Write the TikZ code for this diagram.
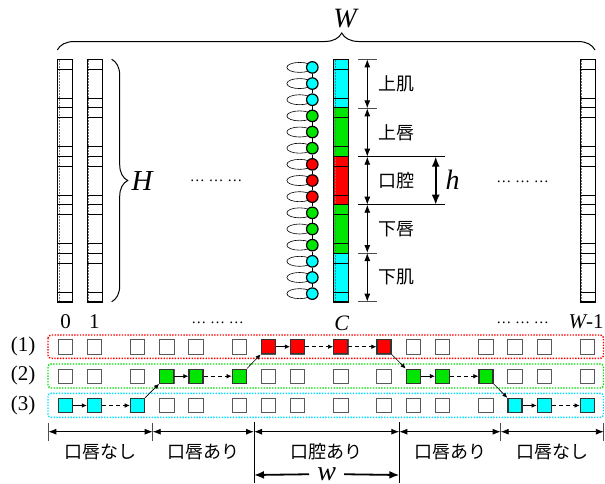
\documentclass[tikz,border=0pt]{standalone}
\usepackage{fontspec}
\setmainfont{Liberation Serif}
\newfontfamily\jpfont{Noto Sans CJK JP}
\usetikzlibrary{arrows.meta,decorations.pathreplacing,shapes.geometric}
\definecolor{cyn}{RGB}{0,255,255}
\definecolor{grn}{RGB}{0,230,0}
\definecolor{rd}{RGB}{255,0,0}
\definecolor{cyndot}{RGB}{0,225,255}
\definecolor{grndot}{RGB}{0,225,0}
\begin{document}
\begin{tikzpicture}[x=1pt,y=-1pt,
  colbox/.style={draw=black, line width=1.1pt, minimum width=15pt, minimum height=242.4pt, inner sep=0pt, anchor=north west},
  cellline/.style={draw=black, line width=0.6pt},
  guide/.style={draw=black!55, line width=0.4pt, dash pattern=on 1.5pt off 1.5pt},
  sq/.style={draw=black!65, line width=0.8pt, fill=white, minimum size=14.5pt, inner sep=0pt},
  csq/.style={draw=black!80, line width=1.4pt, minimum size=14pt, inner sep=0pt},
  harr/.style={-{Latex[length=5pt,width=4.5pt]}, line width=0.6pt},
  darr/.style={harr, dash pattern=on 4pt off 3pt},
  dim/.style={{Latex[length=8pt,width=6pt]}-{Latex[length=8pt,width=6pt]}, line width=0.9pt},
  bigdim/.style={{Latex[length=10pt,width=8pt]}-{Latex[length=10pt,width=8pt]}, line width=1.6pt},
  wdim/.style={-{Latex[length=10pt,width=8pt]}, line width=1.8pt},
  tick/.style={draw=black!70, line width=0.8pt},
  longtick/.style={draw=black, line width=1pt},
  rowbox/.style={dash pattern=on 1.4pt off 1.4pt, line width=1.4pt, rounded corners=3pt},
  jp/.style={font={\jpfont\fontsize{18}{20}\selectfont}},
  num/.style={font={\fontsize{21}{24}\selectfont}},
  big/.style={font={\fontsize{28}{30}\selectfont\itshape}},
  dotsl/.style={font={\fontsize{15}{16}\selectfont}},
  bead/.style={circle, draw=black, line width=1.2pt, minimum size=11.5pt, inner sep=0pt},
  lobe/.style={ellipse, draw=black, line width=0.6pt, fill=white, minimum width=25.5pt, minimum height=10pt, inner sep=0pt}
]
\useasboundingbox (0,0) rectangle (605,483);

% colour bands of the centre column
\foreach \g/\c in {0/cyn,1/grn,2/rd,3/grn,4/cyn}
  \fill[\c] (333.3,{59.3+48.48*\g}) rectangle ++(15,48.48);

% pixel columns with their cell lines
\foreach \xl/\nm in {57.3/k0, 86.7/k1, 333.3/kc, 579.5/kw} {
  \draw[guide] (\xl+1.8,60) -- (\xl+1.8,301);
  \foreach \g in {0,...,4} {
    \pgfmathsetmacro\t{59.3+48.48*\g}
    \draw[cellline] (\xl,\t+10) -- ++(15,0);
    \draw[cellline] (\xl,\t+39) -- ++(15,0);
    \draw[cellline] (\xl,\t+48.48) -- ++(15,0);
  }
  \node[colbox] (\nm) at (\xl,59.3) {};
}

% beads along the centre column
\foreach \i/\c in {0/cyn,1/cyn,2/cyn,3/grn,4/grn,5/grn,6/rd,7/rd,8/rd,9/grn,10/grn,11/grn,12/cyn,13/cyn,14/cyn} {
  \pgfmathsetmacro\y{67.4+16.16*\i}
  \node[lobe] (e\i) at (299.6,\y) {};
  \node[bead, fill=\c] (c\i) at (312.3,\y) {};
}
\foreach \i [count=\j from 1] in {0,...,13}
  \draw[line width=1pt] (c\i) -- (c\j);

% braces
\draw[decorate, decoration={brace, amplitude=17pt, aspect=0.529}, line width=1pt] (57.3,50) -- (595,50);
\node[big] (Wl) at (345,19) {W};
\draw[decorate, decoration={brace, amplitude=16pt}, line width=1pt] (111.7,59.3) -- (111.7,301.7);
\node[big, font={\fontsize{29}{30}\selectfont\itshape}] (Hl) at (142,181) {H};

% ellipses between columns
\node[dotsl] (dl) at (216,181) {… … …};
\node[dotsl] (dr) at (522.5,182) {… … …};

% region sizes on the right of the centre column
\foreach \n/\y in {0/59.3,1/108.3,2/156.7,3/204.7,4/253,5/301.7}
  \coordinate (d\n) at (367.3,\y);
\foreach \y in {59.3,108.3,253,301.7}
  \draw[tick] (358,\y) -- (376.7,\y);
\foreach \y in {156.7,204.7}
  \draw[longtick] (358,\y) -- (445,\y);
\foreach \a/\b in {0/1,1/2,2/3,3/4,4/5}
  \draw[dim] (d\a) -- (d\b);
\node[jp] (r1) at (396.5,83.8) {上肌};
\node[jp] (r2) at (396.5,132.5) {上唇};
\node[jp] (r3) at (396.5,180.7) {口腔};
\node[jp] (r4) at (396.5,228.9) {下唇};
\node[jp] (r5) at (396.5,277.4) {下肌};
\coordinate (h1) at (435.7,156.7);
\coordinate (h2) at (435.7,204.7);
\draw[bigdim] (h1) -- (h2);
\node[big] (hl) at (452.5,180) {h};

% column indices
\node[num] (n0) at (65.6,321.5) {0};
\node[num] (n1) at (94.4,321.5) {1};
\node[dotsl] (nd1) at (217.5,323) {… … …};
\node[num, font={\fontsize{22}{24}\selectfont\itshape}] (nc) at (341.7,323) {C};
\node[dotsl] (nd2) at (522.5,323) {… … …};
\node[num] (nw) at (586,322) {\itshape W\upshape -1};

% row frames
\draw[rowbox, rd] (48,335) rectangle (603.5,358.3);
\draw[rowbox, grndot] (48,364) rectangle (603.5,388);
\draw[rowbox, cyndot] (48,393.3) rectangle (603.5,417.3);
\node[num] (l1) at (23,346.5) {(1)};
\node[num] (l2) at (23,375.8) {(2)};
\node[num] (l3) at (23,405) {(3)};

% cells of each row
\foreach \k/\x in {0/65.6,1/94.5,2/137.4,3/166.7,4/196,5/239.3,6/268.3,7/297.6,8/340.7,9/384,10/413.3,11/442.6,12/486,13/515,14/544.3,15/587.3}
  \foreach \r/\y in {1/346.7,2/376.2,3/405.5}
    \node[sq] (s\r-\k) at (\x,\y) {};
\foreach \k/\x in {6/268.3,7/297.6,8/340.7,9/384}
  \node[csq, fill=rd] (s1-\k) at (\x,346.7) {};
\foreach \k/\x in {3/166.7,4/196,5/239.3,10/413.3,11/442.6,12/486}
  \node[csq, fill=grn] (s2-\k) at (\x,376.2) {};
\foreach \k/\x in {0/65.6,1/94.5,2/137.4,13/515,14/544.3,15/587.3}
  \node[csq, fill=cyn] (s3-\k) at (\x,405.5) {};

% path through the rows
\draw[harr] (s3-0) -- (s3-1);
\draw[darr] (s3-1) -- (s3-2);
\draw[harr] (s3-2.north east) -- (s2-3.south west);
\draw[harr] (s2-3) -- (s2-4);
\draw[darr] (s2-4) -- (s2-5);
\draw[harr] (s2-5.north east) -- (s1-6.south west);
\draw[harr] (s1-6) -- (s1-7);
\draw[darr] (s1-7) -- (s1-8);
\draw[darr] (s1-8) -- (s1-9);
\draw[harr] (s1-9.south east) -- (s2-10.north west);
\draw[harr] (s2-10) -- (s2-11);
\draw[darr] (s2-11) -- (s2-12);
\draw[harr] (s2-12.south east) -- (s3-13.north west);
\draw[harr] (s3-13) -- (s3-14);
\draw[darr] (s3-14) -- (s3-15);

% segment sizes along the bottom
\foreach \n/\x in {0/48.3,1/152.7,2/254,3/399.3,4/500.7,5/603.8}
  \coordinate (b\n) at (\x,431.7);
\foreach \x in {48.3,152.7,500.7,603.8}
  \draw[tick] (\x,422.7) -- (\x,440.5);
\foreach \x in {254,399.3}
  \draw[longtick] (\x,422) -- (\x,483);
\foreach \a/\b in {0/1,1/2,2/3,3/4,4/5}
  \draw[dim] (b\a) -- (b\b);
\node[jp] (g1) at (100.5,452) {口唇なし};
\node[jp] (g2) at (203.3,452) {口唇あり};
\node[jp] (g3) at (326.6,452) {口腔あり};
\node[jp] (g4) at (450,452) {口唇あり};
\node[jp] (g5) at (552.3,452) {口唇なし};

% mouth width
\coordinate (w1) at (254,475);
\coordinate (w2) at (399.3,475);
\node[big, inner xsep=8pt, inner ysep=0pt] (wl) at (326.6,474) {w};
\draw[wdim] (wl) -- (w1);
\draw[wdim] (wl) -- (w2);
\end{tikzpicture}
\end{document}
